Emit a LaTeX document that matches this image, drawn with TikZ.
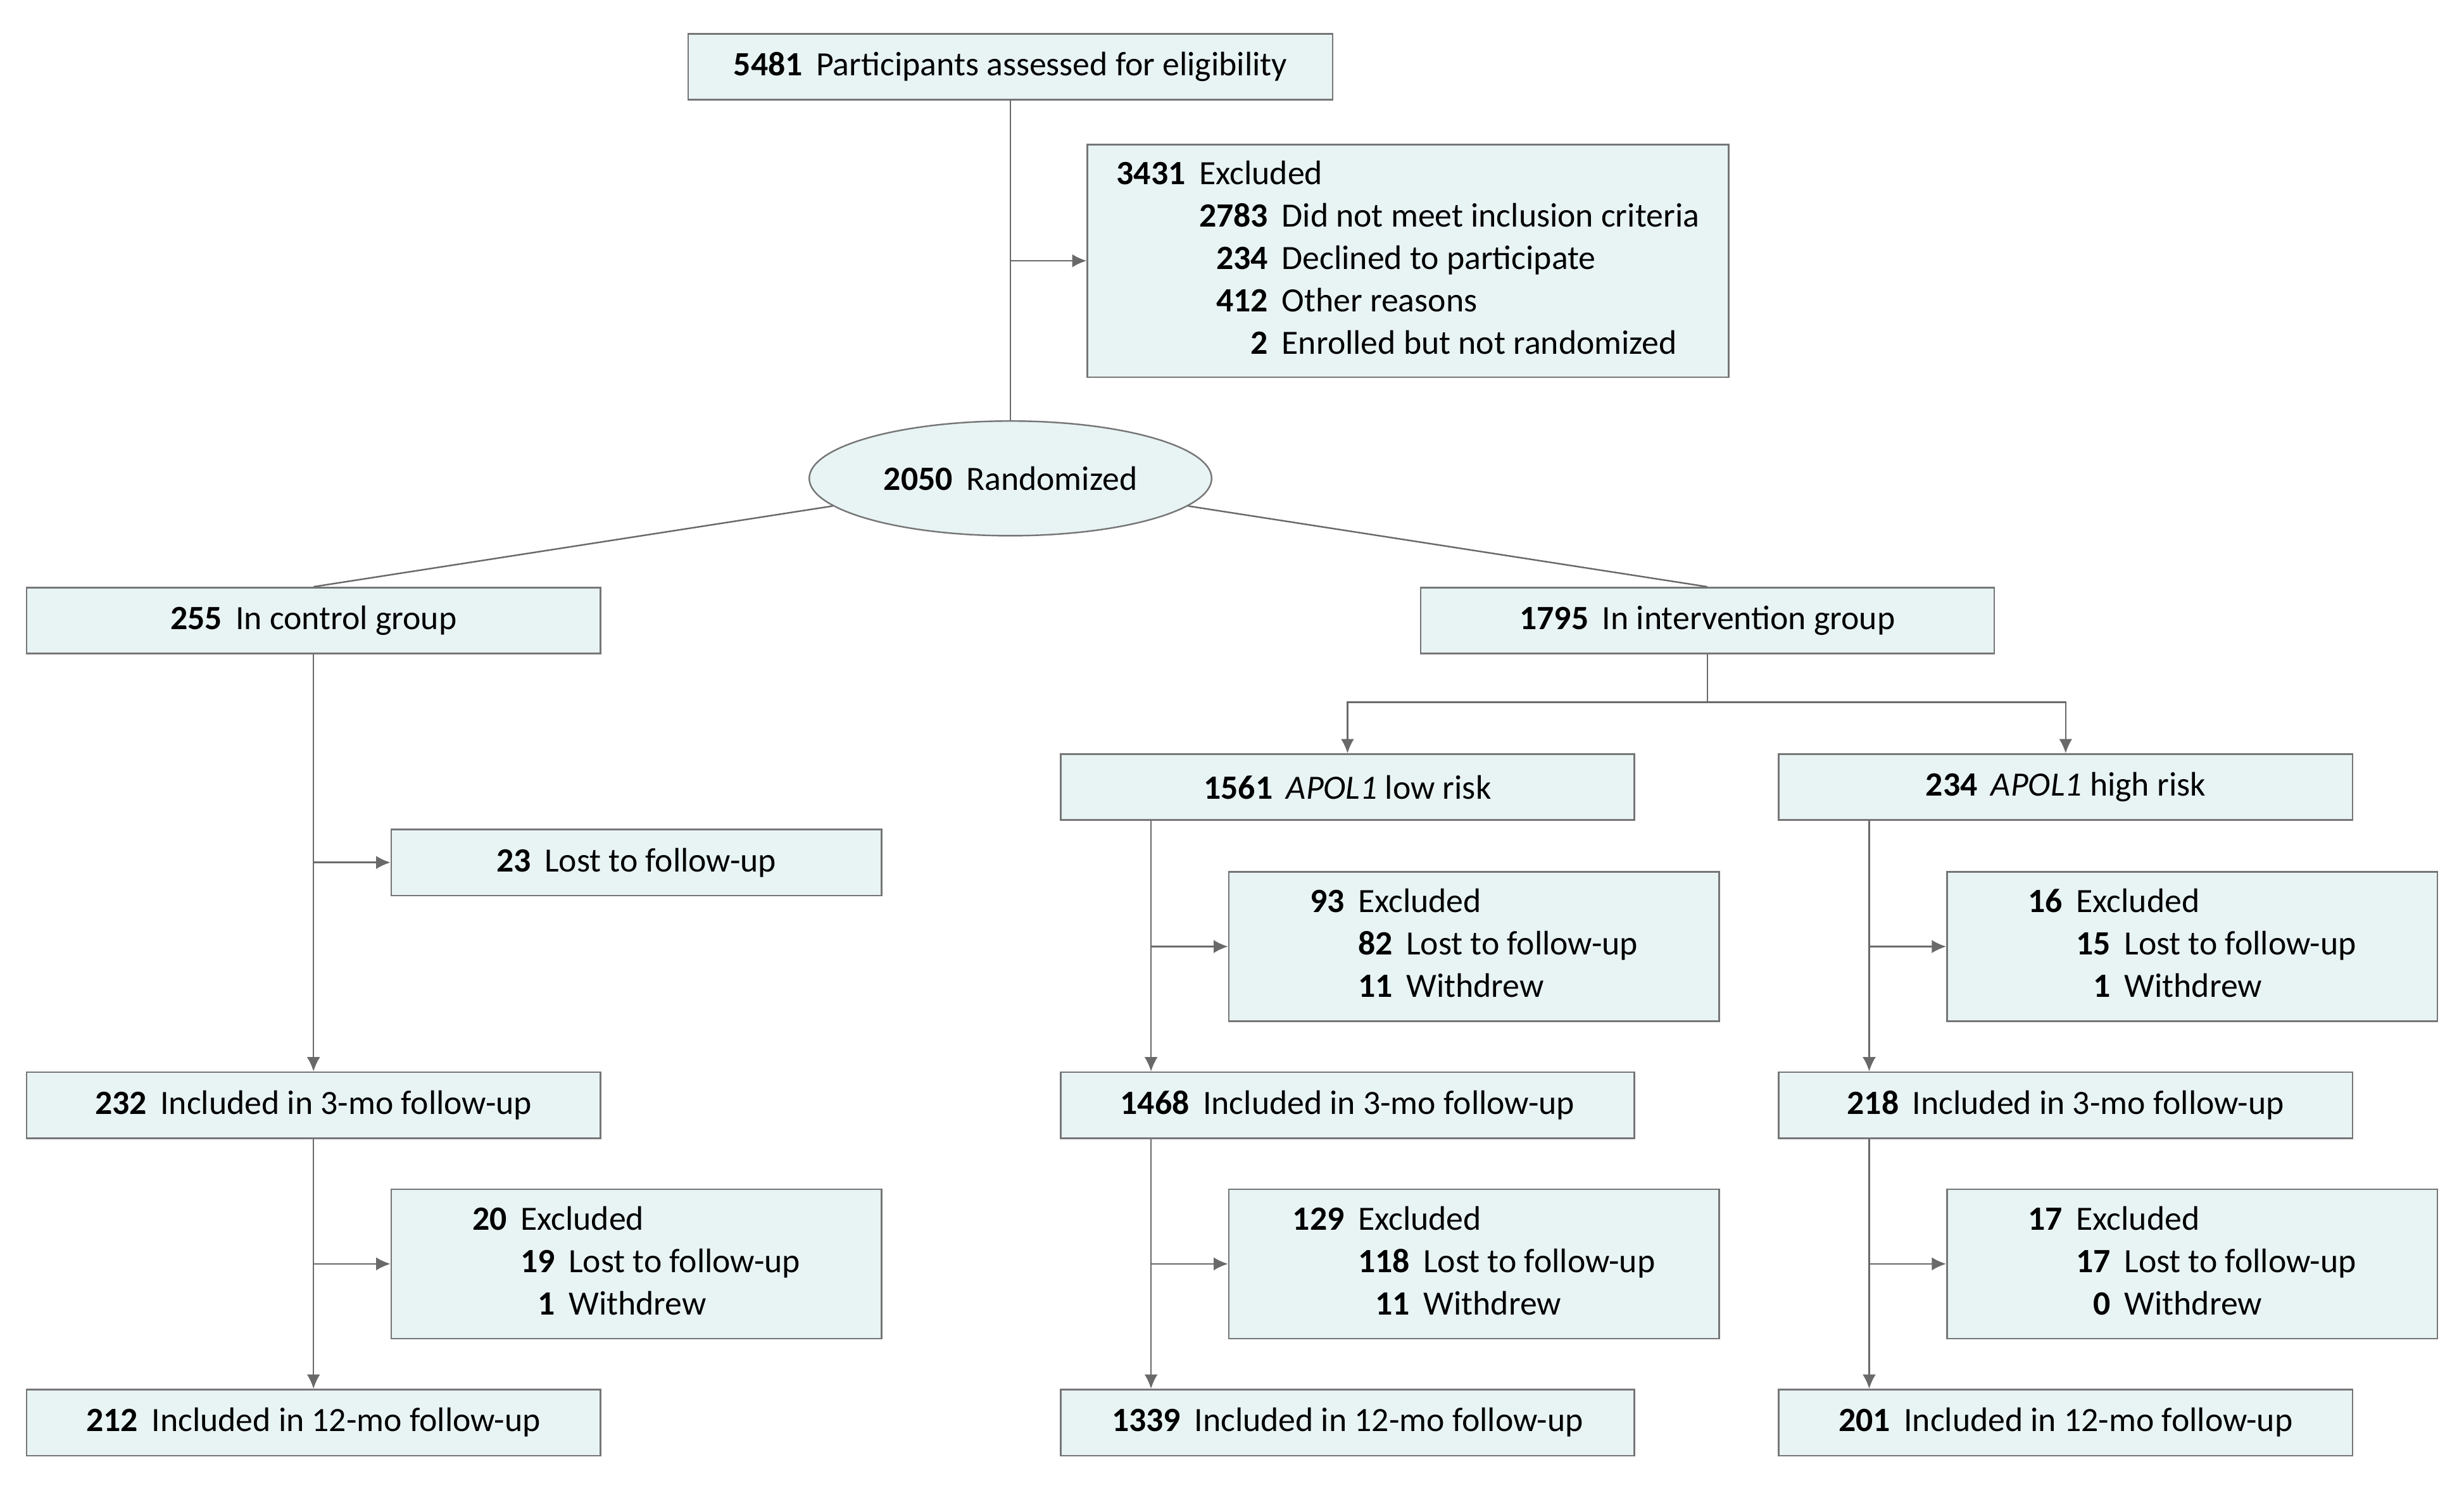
\documentclass[tikz,border=0pt]{standalone}
\usepackage{fontspec}
\setmainfont{Carlito}
\usepackage{tikz}
\usetikzlibrary{arrows.meta,positioning,calc,shapes.geometric}
\definecolor{boxfill}{RGB}{232,243,244}
\definecolor{boxline}{RGB}{118,118,118}
\definecolor{linkgray}{RGB}{105,105,105}
\tikzset{
  cbox/.style={rectangle, draw=boxline, fill=boxfill, line width=0.7pt, inner sep=0pt,
               align=center, minimum height=1.05cm, font=\fontsize{15.4}{19.2}\selectfont},
  armbox/.style={cbox, minimum width=9.125cm},
  sidebox/.style={cbox, minimum width=7.8cm},
  oval/.style={ellipse, draw=boxline, fill=boxfill, line width=0.7pt, inner sep=0pt,
               minimum width=6.4cm, minimum height=1.825cm, font=\fontsize{15.4}{19.2}\selectfont},
  link/.style={line width=0.7pt, draw=linkgray},
  arr/.style={link, -{Latex[length=6.5pt,width=6pt]}},
}
\newcommand{\nlab}[2]{\textbf{#1}\hspace{0.4em}#2}
\newcommand{\exlist}[2]{\begin{tabular}{@{}r@{\hspace{0.4em}}l@{}}\textbf{#1} & Excluded\\
  & \begin{tabular}[t]{@{}r@{\hspace{0.4em}}l@{}}#2\end{tabular}\end{tabular}}

\begin{document}
\begin{tikzpicture}[x=0.025cm, y=-0.025cm]
\useasboundingbox (0,0) rectangle (1568,947);
% enrollment
\node[cbox, minimum width=10.25cm] (elig) at (643,42.5) {\nlab{5481}{Participants assessed for eligibility}};
\node[cbox, minimum width=10.2cm, minimum height=3.7cm] (excl) at (896,166) {\exlist{3431}{\textbf{2783} & Did not meet inclusion criteria\\ \textbf{234} & Declined to participate\\ \textbf{412} & Other reasons\\ \textbf{2} & Enrolled but not randomized}};
\node[oval] (rand) at (643,304.5) {\nlab{2050}{Randomized}};
\draw[link] (elig) -- (rand);
\draw[arr] (elig.south |- excl.west) -- (excl.west);
% allocation
\node[armbox] (ctrl) at (199.5,395) {\nlab{255}{In control group}};
\node[armbox] (intv) at (1086.5,395) {\nlab{1795}{In intervention group}};
\draw[link] (rand) -- (ctrl.north);
\draw[link] (rand) -- (intv.north);
\node[armbox] (low) at (857.5,501) {\nlab{1561}{\textit{APOL1} low risk}};
\node[armbox] (high) at (1314.5,501) {\nlab{234}{\textit{APOL1} high risk}};
\coordinate (split) at (1086.5,447);
\draw[link] (intv.south) -- (split);
\draw[arr] (split) -| (low.north);
\draw[arr] (split) -| (high.north);
% 3-mo
\node[sidebox] (cx1) at (405,549) {\nlab{23}{Lost to follow-up}};
\node[sidebox, minimum height=2.375cm] (lx1) at (938,602.5) {\exlist{93}{\textbf{82} & Lost to follow-up\\ \textbf{11} & Withdrew}};
\node[sidebox, minimum height=2.375cm] (hx1) at (1395,602.5) {\exlist{16}{\textbf{15} & Lost to follow-up\\ \textbf{1} & Withdrew}};
\node[armbox] (c3) at (199.5,703.5) {\nlab{232}{Included in 3-mo follow-up}};
\node[armbox] (l3) at (857.5,703.5) {\nlab{1468}{Included in 3-mo follow-up}};
\node[armbox] (h3) at (1314.5,703.5) {\nlab{218}{Included in 3-mo follow-up}};
\draw[arr] (ctrl.south) -- (c3.north);
\draw[arr] (ctrl.south |- cx1.west) -- (cx1.west);
\draw[arr] ([xshift=1.45cm]low.south west) -- ([xshift=1.45cm]l3.north west);
\draw[arr] ([xshift=1.45cm]low.south west |- lx1.west) -- (lx1.west);
\draw[arr] ([xshift=1.45cm]high.south west) -- ([xshift=1.45cm]h3.north west);
\draw[arr] ([xshift=1.45cm]high.south west |- hx1.west) -- (hx1.west);
% 12-mo
\node[sidebox, minimum height=2.375cm] (cx2) at (405,804.5) {\exlist{20}{\textbf{19} & Lost to follow-up\\ \textbf{1} & Withdrew}};
\node[sidebox, minimum height=2.375cm] (lx2) at (938,804.5) {\exlist{129}{\textbf{118} & Lost to follow-up\\ \textbf{11} & Withdrew}};
\node[sidebox, minimum height=2.375cm] (hx2) at (1395,804.5) {\exlist{17}{\textbf{17} & Lost to follow-up\\ \textbf{0} & Withdrew}};
\node[armbox] (c12) at (199.5,905.5) {\nlab{212}{Included in 12-mo follow-up}};
\node[armbox] (l12) at (857.5,905.5) {\nlab{1339}{Included in 12-mo follow-up}};
\node[armbox] (h12) at (1314.5,905.5) {\nlab{201}{Included in 12-mo follow-up}};
\draw[arr] (c3.south) -- (c12.north);
\draw[arr] (c3.south |- cx2.west) -- (cx2.west);
\draw[arr] ([xshift=1.45cm]l3.south west) -- ([xshift=1.45cm]l12.north west);
\draw[arr] ([xshift=1.45cm]l3.south west |- lx2.west) -- (lx2.west);
\draw[arr] ([xshift=1.45cm]h3.south west) -- ([xshift=1.45cm]h12.north west);
\draw[arr] ([xshift=1.45cm]h3.south west |- hx2.west) -- (hx2.west);
\end{tikzpicture}
\end{document}
